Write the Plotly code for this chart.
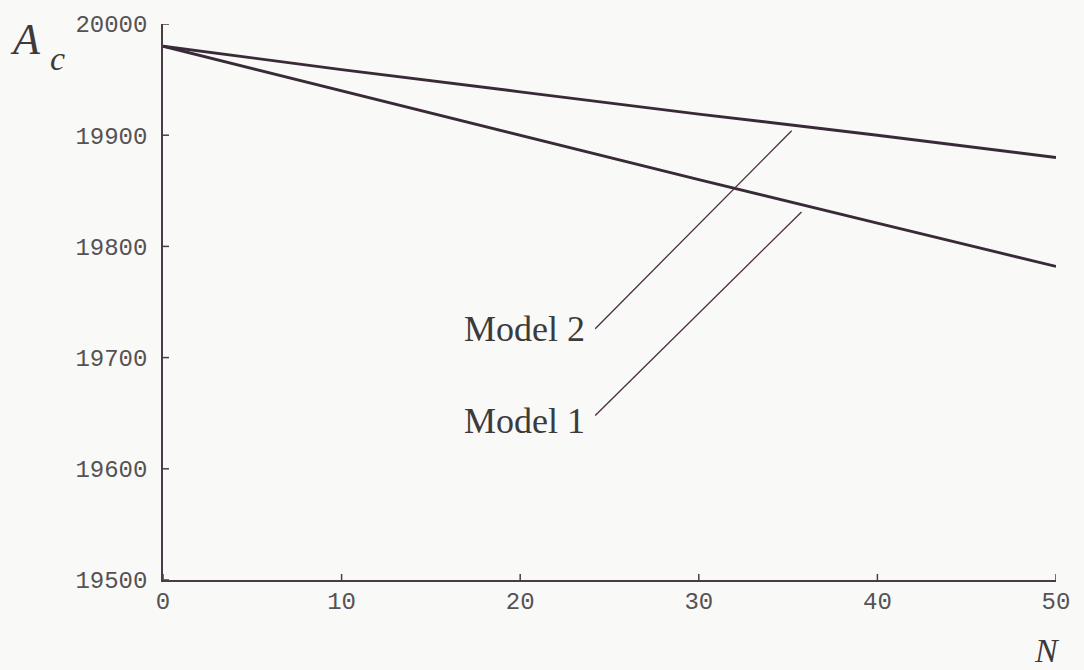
import plotly.graph_objects as go

# Computed A_c against N for the two models
N = [0, 10, 20, 30, 40, 50]
model1_Ac = [19980, 19940, 19900, 19860, 19821, 19782]
model2_Ac = [19980, 19959, 19939, 19919, 19900, 19880]

x_ticks = [0, 10, 20, 30, 40, 50]
y_ticks = [19500, 19600, 19700, 19800, 19900, 20000]

LINE = "#3a2a37"
AXIS = "#4b3b46"
TEXT = "#555254"
BG = "#f9f9f7"

fig = go.Figure()

fig.add_trace(go.Scatter(x=N, y=model1_Ac, mode="lines", name="Model 1",
                         line=dict(color=LINE, width=2.9)))
fig.add_trace(go.Scatter(x=N, y=model2_Ac, mode="lines", name="Model 2",
                         line=dict(color=LINE, width=2.9)))

# leader lines from the labels to their curves
leaders = {
    "Model 2": ([24.2, 35.2], [19726, 19904], 19726),
    "Model 1": ([24.2, 35.75], [19648, 19831], 19643),
}
for name, (lx, ly, ty) in leaders.items():
    fig.add_trace(go.Scatter(x=lx, y=ly, mode="lines", showlegend=False,
                             line=dict(color="#4a2c42", width=1.3)))
    fig.add_annotation(x=lx[0] - 0.45, y=ty, xref="x", yref="y", text=name,
                       showarrow=False, xanchor="right", yanchor="middle",
                       font=dict(family="Liberation Serif", size=36, color="#3d3a3c"))

# tick marks that cross the axis lines
for t in x_ticks:
    fig.add_shape(type="line", xref="x", yref="y", x0=t, x1=t, ysizemode="pixel",
                  yanchor=y_ticks[0], y0=-6, y1=6,
                  line=dict(color=AXIS, width=1.5))
for t in y_ticks:
    fig.add_shape(type="line", xref="x", yref="y", y0=t, y1=t, xsizemode="pixel",
                  xanchor=x_ticks[0], x0=-6, x1=6,
                  line=dict(color=AXIS, width=1.5))

tickfont = dict(family="Liberation Mono", size=24, color=TEXT)

fig.update_layout(
    width=1084, height=670,
    margin=dict(l=163, r=28, t=22, b=90),
    paper_bgcolor=BG, plot_bgcolor=BG,
    showlegend=False,
    xaxis=dict(range=[0, 50], tickvals=x_ticks, ticktext=[str(v) for v in x_ticks],
               ticks="", showline=True, linecolor=AXIS, linewidth=1.6,
               showgrid=False, zeroline=False, tickfont=tickfont,
               ticklabelstandoff=-2),
    yaxis=dict(range=[19500, 20000], tickvals=y_ticks,
               ticktext=[str(v) for v in y_ticks],
               ticks="", showline=True, linecolor=AXIS, linewidth=1.6,
               showgrid=False, zeroline=False, tickfont=tickfont,
               ticklabelstandoff=9),
)

# axis titles, placed in pixels and converted to paper coordinates
pw, ph = 1084 - 163 - 28, 670 - 22 - 90
def to_paper(px, py):
    return (px - 163) / pw, 1 - (py - 22) / ph

serif = "Liberation Serif"
titles = [
    ("<i>A</i>", 44, (8, 11), "left", "top"),
    ("<i>c</i>", 34, (48, 36), "left", "top"),
    ("<i>N</i>", 34, (1062, 671), "right", "bottom"),
]
for text, size, (px, py), xa, ya in titles:
    ax, ay = to_paper(px, py)
    fig.add_annotation(x=ax, y=ay, xref="paper", yref="paper", text=text,
                       showarrow=False, xanchor=xa, yanchor=ya,
                       font=dict(family=serif, size=size, color="#3d3a3c"))

fig.write_html("out.html")
